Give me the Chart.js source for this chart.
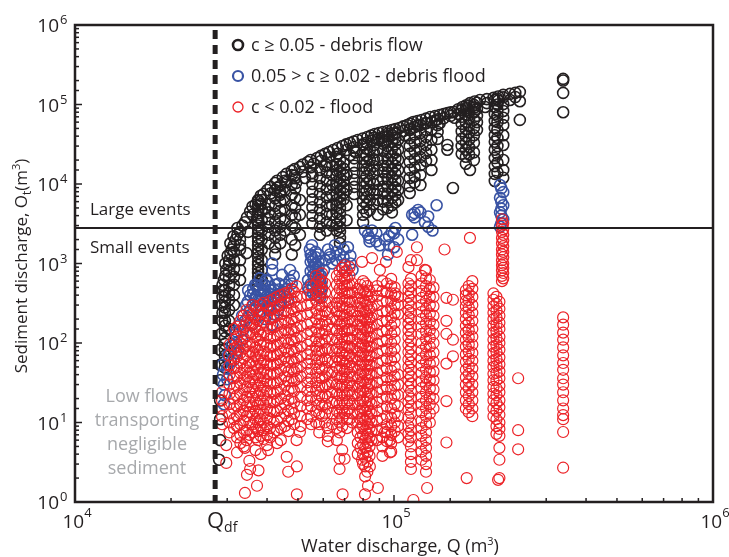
<!DOCTYPE html>
<html>
<head>
<meta charset="utf-8">
<script src="https://cdn.jsdelivr.net/npm/chart.js@4.4.1/dist/chart.umd.min.js"></script>
<style>
  html, body { margin: 0; padding: 0; background: #fff; }
  canvas { display: block; }
</style>
</head>
<body>
<canvas id="chart" width="729" height="557"></canvas>
<script>
// values: [water discharge Q (m3), [sediment discharge Ot (m3), ...]]
const debrisFlowColumns = [
    [28300, [3.4]], [28500, [6, 11, 19, 34, 53, 82]], [28700, [130]], [28900, [190, 300]],
    [29100, [460]], [29300, [620]], [29800, [830]], [30400, [1100]], [31000, [1500]],
    [31900, [2000]], [32900, [2500, 1700]], [34100, [3300]], [34900, [2500]], [35400, [4500]],
    [37100, [3500]], [37500, [6300]], [39400, [5000]], [40100, [8400]], [42400, [10300]],
    [43900, [7300]], [44800, [12200]], [47800, [14600]], [49300, [10300]], [50700, [16400]],
    [52600, [11900]], [53700, [18900]], [55300, [13700]], [57400, [21200]], [60800, [23900, 16800]],
    [64500, [26800]], [68900, [30100]], [72800, [32800, 23100]], [76000, [25000]], [77000, [35800]],
    [82500, [39000]], [87100, [42500]], [92300, [45100]], [93700, [34000]], [98500, [47800]],
    [104000, [50600]], [108000, [41000]], [110000, [55200]], [115000, [60200]], [122000, [63800]],
    [130000, [69600]], [139000, [73800, 58000]], [147000, [78200]], [154000, [80500]], [155000, [68000]],
    [164000, [93000]], [173000, [104000]], [186000, [114000]], [193000, [93000]], [205000, [121000]],
    [220000, [132000]], [231000, [136000, 114000]], [248000, [144000, 110000, 64000]],
    [339000, [200000, 210000, 140000, 80000]],
    [29000, [240, 380, 540]], [29600, [700, 1000]], [30100, [1250]], [30700, [1350, 1800]],
    [31400, [2200]], [32300, [2300, 2800]], [33500, [3000]], [34600, [3800]], [36000, [4100, 5200]],
    [36800, [5500]], [38200, [5600, 7100]], [39000, [7500]], [41000, [7600, 9200]], [43000, [9000, 11000]],
    [46000, [10600, 13400]], [48800, [12700, 15400]], [51800, [14300, 17600]], [54800, [16200, 20000]],
    [56000, [18000]], [59000, [19500, 22600]], [62600, [21700, 25300]], [66600, [24000, 28400]],
    [70800, [26700, 31500]], [74800, [29000, 34300]], [79800, [31500, 37400]], [84800, [34800, 40700]],
    [89700, [37500, 43800]], [95400, [40000, 46400]], [101000, [43000, 49000]], [107000, [46500, 53000]],
    [112500, [50000, 57500]], [118500, [54000, 62000]], [126000, [58500, 66500]], [134500, [63000, 71500]],
    [143000, [67000, 76000]], [150500, [72000, 79500]], [159000, [76000, 87000]], [168500, [84000, 98000]],
    [179000, [92000, 109000]], [195500, [104000, 117000]], [212000, [112000, 126000]], [240000, [124000, 140000]],
    [29500, [460, 390, 330, 280, 240, 190, 165, 140, 115, 97, 82, 69, 58, 49]],
    [30400, [960, 790, 650, 530, 430, 350, 260, 190, 150]],
    [31500, [1700, 1400, 1100, 850, 680, 540, 400, 300]],
    [32900, [2000, 1500, 1100, 830, 620]],
    [34500, [1350]],
    [37500, [6100, 5400, 4800, 4300, 3800, 3400, 3000, 2700, 2400, 2100, 1900, 1700, 1500, 1350, 1200, 1050, 960, 850, 760, 680, 600, 540]],
    [38500, [6300, 4700, 3500, 2600, 2000, 1500, 1100, 830, 620]],
    [40500, [5500, 4400, 3600, 2900, 2300, 1800]],
    [42400, [8400, 6600, 5300, 4200, 3300, 2600, 2100, 1600, 1300]],
    [44000, [9500, 7800, 6000, 4600, 3700, 2900, 2300, 1800]],
    [45500, [11000, 8400, 6300, 4700, 3500, 2600]],
    [47800, [13000, 9700, 7300, 5400, 4100, 3000, 2000, 1300]],
    [49000, [11800, 8800, 6700, 5000, 3800, 2800, 1700]],
    [50700, [6300, 4100, 2300]],
    [55500, [12500, 10000, 8000, 6400, 5100, 4000, 3200]],
    [58600, [15000, 11900, 9400, 7500, 5900, 4700, 3700, 2900, 2300]],
    [61500, [17500, 14000, 11000, 8600, 6800, 5300, 4200, 3300, 2600]],
    [64000, [17000, 13000, 9700, 7300, 5400, 4100, 3000]],
    [66000, [22000, 17800, 14800, 12500, 10500, 8900, 7500, 6300, 5300, 4400, 3700, 3100, 2600]],
    [67700, [20000, 16800, 14200, 11900, 10000, 8400, 7100, 5900, 5000, 4200, 3500, 2900, 2500, 2100, 1800]],
    [69500, [18500, 15600, 13000, 10800, 9000, 7600, 6400]],
    [71000, [13000, 8400, 5400, 3500]],
    [75000, [26000, 21000, 17000, 13800, 11300, 9200, 7500]],
    [80000, [31000, 25000, 20600, 16800, 13700, 11000, 9100, 7500, 6100, 5000, 4100, 3300]],
    [82000, [33000, 28000, 23000, 19000, 15500, 12500, 10200, 8300, 6800, 5500, 4400]],
    [84000, [27000, 20000, 15000, 11000, 8400, 6300, 4700]],
    [86500, [38000, 31000, 25000, 20500, 16800, 13600, 10000, 7500, 5600]],
    [89000, [36000, 27000, 20000, 15000, 11000, 8400, 6300, 4100]],
    [92500, [39000, 32000, 26000, 21000, 17000, 14000, 11500, 9300, 7600, 6000, 4800]],
    [95500, [43000, 36000, 30000, 25000, 20500, 17000, 14000, 11500, 9300, 7600, 6200, 5000]],
    [98500, [41000, 34000, 27500, 22600, 18400, 15000, 12200, 10000, 8200, 6700, 5400, 4400]],
    [101000, [44000, 38000, 31500, 25000, 21000, 17000, 13500, 11000, 9000, 7300, 5900]],
    [103000, [36000, 27000, 20000, 15000, 11000, 8400, 6300]],
    [112000, [47800, 37700, 30100, 23900, 18900, 15000, 11900, 9400, 7700]],
    [116000, [52000, 42000, 33000, 26000, 20500, 16000, 12500, 10500]],
    [121000, [55200, 43700, 34700, 27500, 21800, 17300, 13000, 9700]],
    [126000, [58000, 48000, 39000, 31000, 24500, 19500]],
    [131000, [60000, 47800, 36000, 27000, 20000, 15000]],
    [137000, [65000, 55000, 45000, 37000]],
    [147000, [31000, 27000]], [153000, [8900]],
    [163000, [85000, 70000, 57000, 46000, 37000, 30000, 24000]],
    [168000, [90000, 74000, 60000, 49000, 40000, 33000, 27000, 22000, 18000]],
    [172000, [96000, 80000, 66000, 54000, 44000, 36000, 29000, 23500]],
    [178000, [99000, 80000, 64000, 50600, 41000, 33000, 25000, 20000]],
    [182000, [105000, 88000, 72000, 60000, 48000]],
    [173000, [15000]],
    [207000, [114000, 93000, 76000, 62000, 50600, 41000, 34000, 27000, 21200, 16800, 13400, 10900]],
    [211000, [118000, 100000, 86000, 72000, 60000, 48000, 38000, 30000, 24000, 18500, 14000]],
    [220000, [123000, 101000, 83000, 68000, 55000, 41000, 31000, 20000, 15000, 12000]]
];

const debrisFloodColumns = [
    [28900, [53]], [29100, [40]], [29300, [30, 17]], [29500, [22]], [30200, [71]], [31000, [94]],
    [31900, [130]], [32900, [170]], [32500, [82]], [31500, [61]], [33400, [110, 220]],
    [30000, [35, 48]], [30800, [80, 58]], [32000, [100, 75, 140]], [33600, [145]], [34800, [210, 330]],
    [34100, [190]], [35400, [260, 400]], [36700, [350, 540]], [37500, [460, 350]], [38600, [540, 350]],
    [39700, [620]], [40900, [460]], [42400, [350, 540]], [43900, [400, 300]], [45500, [540]],
    [47200, [620]], [35900, [170]], [38000, [220, 650]], [40400, [260]], [43300, [260]],
    [46600, [350]], [41500, [830, 1000, 170]], [44600, [720]], [34900, [460]], [47200, [830]],
    [38900, [440]], [40300, [370]], [45200, [440]], [39400, [200]], [34400, [300]],
    [36200, [300, 410, 480]], [37000, [520, 390, 280]], [38300, [410, 300, 250]], [39300, [540, 450, 320]],
    [40100, [600, 400, 330, 280]], [41000, [510, 410, 300]], [42000, [470, 380, 230]], [43500, [560, 470]],
    [44300, [380, 330]], [46000, [480, 380]], [47800, [560]], [48500, [700]],
    [54500, [1500]], [55300, [1200, 1700]], [56500, [960]], [57800, [790, 1300]], [58600, [620, 370]],
    [59400, [500]], [57000, [400]], [54100, [460]], [60800, [1100]], [62100, [1500]], [64000, [1000]],
    [56100, [650]], [60300, [830]], [65300, [1700]], [68900, [880]],
    [54800, [1300, 1050, 800, 550]], [55800, [1100, 880, 720, 520, 420]], [56800, [1400, 1200, 1000, 850, 700, 560]],
    [58000, [1050, 900, 740, 600, 460]], [59000, [700, 560, 430]], [53800, [620, 500]],
    [63000, [1300, 1200]], [66000, [1400, 1100]], [69500, [1500, 1200]], [73000, [1250, 1000]],
    [67700, [1300]], [71700, [1600]], [74100, [830]], [70200, [960]],
    [81100, [2600]], [82900, [2300]], [85300, [2600]], [90300, [1700]], [93700, [2000]],
    [98500, [2500]], [101000, [2800]], [103000, [2000]], [95800, [1300]],
    [83800, [2100, 1900]], [88000, [2400, 1900]], [96500, [2200, 1700]], [100000, [1600, 2400]],
    [114000, [4100, 2300]], [119000, [4700]], [121000, [4400]], [125000, [3300]], [132000, [2600]], [136000, [5400]],
    [116000, [3800, 4300]], [128000, [2900, 3900]],
    [215000, [9700, 6700, 4400, 2900]], [220000, [7900, 5400, 3600]], [217000, [8800, 6000, 4900, 4000, 3200]]
];

const floodColumns = [
    [28900, [24, 19, 15, 12, 9.5]], [29800, [5.2, 3.1]],
    [30500, [95, 70, 52, 40, 30, 23, 17, 13, 10, 7.5]],
    [31500, [150, 110, 85, 62, 48, 36, 27, 20, 15, 11, 8.5]],
    [32200, [160, 120, 90, 68, 50, 38, 29, 22, 16, 12, 9, 6.5, 4.2]],
    [33000, [190, 140, 100, 75, 55, 42, 31, 23, 17, 13, 9.5, 7, 5.5]],
    [33800, [220, 160, 115, 85, 64, 46, 35, 26, 19, 14, 10.5, 7.5, 5]],
    [34500, [260, 180, 125, 92, 70, 50, 38, 28, 21, 16, 12, 8, 6]],
    [35200, [240, 180, 135, 100, 78, 56, 42, 32, 24, 18, 13.5, 10, 7, 3.3]],
    [36000, [300, 220, 170, 130, 95, 75, 58, 44, 35, 27, 21, 16, 12.5, 9.5, 7.5]],
    [36800, [280, 200, 155, 118, 88, 68, 52, 40, 31, 24, 18.5, 14, 11, 8.5, 6.5, 4.5]],
    [37500, [250, 190, 140, 110, 80, 62, 48, 37, 29, 22, 17, 13, 10, 7.8, 6]],
    [38200, [300, 230, 170, 125, 95, 70, 55, 42, 32, 25, 19, 14.5, 11, 8.8, 6.8, 4]],
    [39000, [320, 240, 180, 135, 100, 78, 60, 46, 36, 28, 22, 17, 13, 10, 8, 6.2]],
    [40000, [290, 220, 165, 125, 95, 72, 55, 42, 33, 25, 19.5, 15, 11.5, 9, 7, 5.2]],
    [40900, [340, 260, 200, 150, 115, 88, 68, 52, 40, 31, 24, 18, 14, 11, 8.5, 6.5]],
    [42000, [360, 275, 210, 158, 120, 92, 70, 53, 41, 31, 23, 18, 13.5, 10, 7.5]],
    [43000, [380, 290, 220, 165, 125, 95, 72, 55, 42, 32, 25, 19, 14, 10.5, 8, 5.5]],
    [44200, [400, 300, 230, 175, 135, 100, 78, 60, 46, 35, 26, 20, 15, 11.5, 8.5, 6]],
    [45500, [420, 330, 250, 190, 145, 110, 85, 65, 50, 38, 29, 22, 17, 13, 9]],
    [46700, [430, 320, 240, 180, 135, 100, 76, 58, 44, 33, 25, 19, 14, 10.5, 7.8]],
    [47800, [480, 360, 270, 200, 150, 110, 82, 62, 47, 36, 27, 20, 15, 11]],
    [48600, [440, 330, 250, 185, 140, 105, 78, 58, 44, 33, 25, 18, 13, 9.5]],
    [49500, [520, 380, 280, 210, 155, 115, 86, 64, 48, 35, 6]],
    [51000, [380, 290, 220, 165, 120, 90, 68, 50, 38, 28, 21, 16, 12, 9]],
    [53500, [400, 300, 230, 170, 130, 95, 72, 55, 42, 32, 25, 19, 15, 11]],
    [55000, [520, 400, 310, 240, 180, 140, 105, 80, 62, 47, 36, 28, 21, 16, 12, 9.5]],
    [57000, [700, 560, 440, 340, 260, 200, 150, 115, 90, 70, 54, 42, 32, 25, 19, 14, 10]],
    [58300, [640, 500, 390, 300, 230, 175, 135, 104, 80, 62, 48, 37, 29, 22, 17, 13, 9.5, 7.5]],
    [59500, [750, 600, 470, 370, 290, 220, 170, 130, 100, 78, 60, 46, 36, 28, 21, 16, 12]],
    [60800, [560, 430, 330, 250, 190, 145, 110, 84, 64, 50, 38, 29, 22, 17, 13, 10]],
    [62000, [330, 240, 170, 120, 85, 60, 42, 30, 21, 15, 8.5, 6.8, 5.8]],
    [64000, [280, 200, 150, 110, 80, 58, 43, 32, 24, 18, 13, 9.5]],
    [66200, [700, 540, 420, 320, 250, 190, 145, 112, 86, 66, 50, 39, 30, 23, 18, 14, 11, 8.5, 6]],
    [67500, [800, 620, 480, 370, 290, 220, 170, 130, 100, 78, 60, 46, 36, 28, 22, 17, 13, 10, 7.5, 3.5, 2.6]],
    [68800, [880, 700, 560, 450, 360, 290, 230, 185, 150, 120, 95, 75, 60, 48, 38, 30, 24, 19, 15, 11.5, 9, 4.5]],
    [70000, [950, 780, 640, 520, 420, 340, 270, 220, 175, 140, 110, 88, 70, 55, 44, 35, 28, 22, 17, 13, 3.5]],
    [71200, [820, 660, 530, 430, 350, 280, 225, 180, 145, 115, 92, 74, 59, 47, 37, 29, 23, 18, 14, 11, 8.5]],
    [72500, [900, 700, 540, 420, 330, 260, 200, 150, 115, 90, 70, 54, 42, 32, 25, 19, 15, 11]],
    [74000, [560, 430, 330, 250, 190, 145, 110, 85, 65, 50, 38, 29, 22, 17, 13, 10]],
    [77000, [480, 370, 290, 220, 170, 130, 100, 78, 60, 46, 36, 28, 22, 17, 13, 10, 7.5, 5.5, 4]],
    [78500, [540, 420, 320, 250, 190, 150, 115, 88, 68, 52, 40, 31, 24, 18.5, 14, 11, 8.5, 6.5, 4.8]],
    [80000, [600, 460, 350, 270, 210, 160, 125, 95, 73, 56, 43, 33, 25, 19, 15, 11.5, 9, 7, 5.3, 4, 3]],
    [81200, [560, 430, 330, 250, 195, 150, 115, 88, 68, 52, 40, 31, 24, 18, 14, 10.5, 8, 6.2, 4.8, 3.6, 2.8, 2.1]],
    [82500, [520, 400, 300, 230, 180, 140, 105, 80, 60, 46, 35, 27, 21, 16, 12, 9.5, 7.2, 5.5, 4.2, 3.2, 2.4]],
    [83800, [450, 340, 260, 200, 155, 118, 90, 70, 53, 41, 31, 24, 18.5, 14, 11, 8.5, 6.5, 5, 3.8]],
    [85000, [380, 280, 210, 160, 120, 90, 68, 52, 40, 30, 23, 17, 13, 10, 7.8, 6]],
    [88500, [520, 390, 300, 230, 170, 130, 98, 74, 56, 42, 32, 24, 18, 14, 10.5, 8, 6]],
    [92000, [600, 450, 340, 250, 190, 140, 105, 80, 60, 45, 34, 26, 20, 15, 11, 8.5, 6.5, 5, 3.8]],
    [95000, [560, 430, 330, 250, 190, 145, 110, 84, 64, 48, 37, 28, 21, 16, 12, 9.5, 7.5, 5.8]],
    [98000, [640, 520, 420, 340, 270, 210, 165, 130, 100, 78, 60, 45, 34, 26, 20, 15, 11.5, 9, 7, 5.5, 4.3]],
    [100500, [500, 390, 300, 235, 180, 140, 110, 85, 66, 50, 38, 29, 22, 17, 13, 10, 7.8]],
    [103000, [380, 300, 230, 40, 30, 22, 16, 12, 9, 6.5]],
    [111000, [900, 560, 460, 380, 310, 255, 210, 175, 145, 118, 95, 77, 62, 50, 41, 34, 28, 22, 18, 14.5, 11.5, 9, 7.2, 5.8]],
    [113000, [1100, 640, 520, 430, 350, 290, 240, 200, 160, 130, 105, 85, 70, 57, 46, 38, 31, 25, 20, 16, 13, 10, 8, 6.5, 5, 4, 3.2, 2.6]],
    [122000, [700, 560, 450, 370, 300, 245, 200, 160, 130, 100, 80, 64, 52, 42, 33, 27, 21, 17, 13.5, 10.5, 8.5, 6.8, 5.4, 4.3, 3.4]],
    [126000, [820, 650, 520, 420, 340, 270, 220, 175, 140, 112, 90, 72, 58, 46, 37, 30, 24, 19, 15, 12, 9.5, 7.5, 6, 4.8, 3.8, 3, 2.4]],
    [129500, [620, 480, 380, 300, 235, 185, 145, 115, 90, 70, 55, 43, 34, 27, 21, 17, 13, 10]],
    [133000, [500, 380, 290, 220, 170, 130, 100, 76, 58, 44, 34, 26, 20, 15]],
    [146000, [370, 190, 130, 55, 18.6, 5.6]], [153000, [350, 110, 68]],
    [168000, [460, 400, 340, 290, 240, 200, 165, 135, 110, 90, 72, 58, 46, 37, 30, 24, 19, 15]],
    [171500, [520, 420, 345, 280, 225, 180, 145, 118, 96, 78, 63, 51, 41, 33, 27, 21.5, 17, 13.5]],
    [176000, [600, 480, 380, 300, 240, 190, 150, 120, 95, 75, 60, 48, 38, 30, 24, 19, 15, 12]],
    [218000, [3600, 3000, 2500, 2100, 1800, 1500, 1300, 1100, 950, 820, 700, 600]],
    [220000, [3200, 2700, 2300, 1950, 1650, 1400, 1200, 1000, 880, 760, 650]],
    [205000, [420, 350, 290, 240, 200, 165, 135, 110, 90, 74, 60, 50, 41, 34, 28, 23, 19, 15, 12]],
    [209500, [380, 310, 255, 210, 172, 140, 115, 94, 77, 63, 52, 42, 34, 27, 22, 17.5, 14, 11, 9, 7.2]],
    [214000, [330, 270, 220, 180, 150, 120, 100, 82, 66, 54, 44, 36, 29, 24, 19, 15.5, 12.5, 10, 8.3, 6.8, 4.8, 3.4, 2.0]],
    [245000, [36, 8, 4.6]],
    [339000, [210, 170, 135, 110, 88, 70, 56, 46, 36, 30, 24, 19, 15, 12.4, 11, 7.6, 2.7]],
    [34100, [1.3, 4.8]], [37200, [1.6]], [34600, [2.2]], [35400, [2.6]], [37600, [2.5]], [40300, [4.5]],
    [46100, [3.7]], [46600, [2.4]], [49600, [2.8, 1.25]], [50700, [7.6]], [69000, [1.25]], [81100, [1.25]],
    [82900, [1.6]], [84000, [2.8]], [89000, [1.5]], [79400, [3.4, 1050]], [97100, [4.2, 6.0]], [93700, [7.6]],
    [85300, [1170]], [90300, [830]], [94400, [1050]], [88000, [460]], [101000, [420]], [102000, [1400]],
    [118000, [1600, 1100]], [125000, [830]], [144000, [1500]], [173000, [2100]], [115000, [1.06]],
    [127000, [1.5]], [169000, [2.0]], [212000, [1.9]]
];

const seriesLabels = ['c \u2265 0.05 - debris flow', '0.05 > c \u2265 0.02 - debris flood', 'c < 0.02 - flood'];
const seriesColors = ['#231f20', '#3953a4', '#ec2227'];
const xDecades = [1e4, 1e5, 1e6];
const yDecades = [1e0, 1e1, 1e2, 1e3, 1e4, 1e5, 1e6];
const qDebrisFlow = 27500;     // Qdf, dashed line
const largeEventLimit = 2800;  // large / small events divide
const lowFlowText = ['Low flows', 'transporting', 'negligible', 'sediment'];

const FONT = '"Open Sans", sans-serif';
const INK = '#231f20';

function toPoints(cols) {
    return cols.flatMap(([q, vs]) => vs.map(v => ({ x: q, y: v })));
}

// draws a row of text pieces: [text, size, baseline shift]
function richText(ctx, parts, x, y, align) {
    let total = 0;
    parts.forEach(p => { ctx.font = p[1] + 'px ' + FONT; total += ctx.measureText(p[0]).width; });
    let cx = align === 'center' ? x - total / 2 : align === 'right' ? x - total : x;
    ctx.textAlign = 'left';
    ctx.textBaseline = 'alphabetic';
    parts.forEach(p => {
        ctx.font = p[1] + 'px ' + FONT;
        ctx.fillText(p[0], cx, y + (p[2] || 0));
        cx += ctx.measureText(p[0]).width;
    });
}

const decorations = {
    id: 'decorations',
    afterDatasetsDraw(chart) {
        const { ctx, chartArea: a, scales: { x, y } } = chart;
        ctx.save();
        ctx.strokeStyle = INK;

        const yl = y.getPixelForValue(largeEventLimit);
        ctx.lineWidth = 2;
        ctx.beginPath(); ctx.moveTo(a.left, yl); ctx.lineTo(a.right, yl); ctx.stroke();

        const xq = x.getPixelForValue(qDebrisFlow);
        ctx.lineWidth = 5;
        ctx.setLineDash([9, 6]);
        ctx.beginPath(); ctx.moveTo(xq, a.top + 5); ctx.lineTo(xq, a.bottom); ctx.stroke();
        ctx.setLineDash([]);

        // inward tick marks
        ctx.lineWidth = 1.5;
        y.ticks.forEach(t => {
            const p = y.getPixelForValue(t.value);
            const len = yDecades.includes(t.value) ? 7 : 4;
            ctx.beginPath(); ctx.moveTo(a.left, p); ctx.lineTo(a.left + len, p); ctx.stroke();
        });
        x.ticks.forEach(t => {
            const p = x.getPixelForValue(t.value);
            const len = xDecades.includes(t.value) ? 7 : 4;
            ctx.beginPath(); ctx.moveTo(p, a.bottom); ctx.lineTo(p, a.bottom - len); ctx.stroke();
        });

        ctx.lineWidth = 2.5;
        ctx.strokeRect(a.left, a.top, a.right - a.left, a.bottom - a.top);
        ctx.restore();
    },
    afterDraw(chart) {
        const { ctx, scales: { x, y } } = chart;
        ctx.save();
        ctx.fillStyle = INK;

        yDecades.forEach(v => {
            const p = y.getPixelForValue(v);
            ctx.font = '19px ' + FONT; ctx.textAlign = 'right'; ctx.textBaseline = 'alphabetic';
            ctx.fillText('10', 59, p + 7);
            ctx.font = '13px ' + FONT; ctx.textAlign = 'left';
            ctx.fillText(String(Math.round(Math.log10(v))), 60, p - 1);
        });
        xDecades.forEach(v => {
            const p = x.getPixelForValue(v);
            richText(ctx, [['10', 19], [String(Math.round(Math.log10(v))), 13, -11]], p + 2, 528, 'center');
        });

        const xq = x.getPixelForValue(qDebrisFlow);
        richText(ctx, [['Q', 22], ['df', 14, 4]], xq + 7, 528, 'center');

        richText(ctx, [['Water discharge, Q (m', 18], ['3', 11, -7], [')', 18]], 400, 552, 'center');

        ctx.save();
        ctx.translate(27, 266);
        ctx.rotate(-Math.PI / 2);
        richText(ctx, [['Sediment discharge, O', 17], ['t', 12, 4], ['(m', 17], ['3', 11, -7], [')', 17]], 0, 0, 'center');
        ctx.restore();

        const yl = y.getPixelForValue(largeEventLimit);
        ctx.font = '17px ' + FONT; ctx.textAlign = 'left'; ctx.textBaseline = 'alphabetic';
        ctx.fillText('Large events', 90, yl - 13);
        ctx.fillText('Small events', 90, yl + 25);

        ctx.fillStyle = '#a7a9ac';
        ctx.font = '18px ' + FONT; ctx.textAlign = 'center';
        lowFlowText.forEach((s, i) => ctx.fillText(s, 147, 402 + i * 24));

        // legend
        chart.data.datasets.forEach((ds, i) => {
            const cy = 45 + i * 31;
            ctx.strokeStyle = ds.borderColor;
            ctx.lineWidth = [2.6, 2.2, 1.3][i];
            ctx.beginPath(); ctx.arc(238, cy, 5, 0, Math.PI * 2); ctx.stroke();
            ctx.fillStyle = INK;
            ctx.font = '18px ' + FONT; ctx.textAlign = 'left'; ctx.textBaseline = 'alphabetic';
            ctx.fillText(ds.label, 251, cy + 6);
        });
        ctx.restore();
    }
};

const seriesColumns = [debrisFlowColumns, debrisFloodColumns, floodColumns];
const datasets = seriesColumns.map((cols, i) => ({
    label: seriesLabels[i],
    data: toPoints(cols),
    showLine: false,
    pointStyle: 'circle',
    pointRadius: 5.5,
    pointBorderWidth: [1.6, 1.6, 1.2][i],
    borderColor: seriesColors[i],
    pointBorderColor: seriesColors[i],
    pointBackgroundColor: 'rgba(0,0,0,0)',
    order: 3 - i
}));

const hiddenAxis = { display: false, drawTicks: false };

new Chart(document.getElementById('chart'), {
    type: 'scatter',
    data: { datasets },
    options: {
        responsive: false,
        animation: false,
        events: [],
        layout: { padding: { left: 75, right: 16, top: 25, bottom: 55 } },
        plugins: { legend: { display: false }, tooltip: { enabled: false } },
        scales: {
            x: {
                type: 'logarithmic', min: 1e4, max: 1e6,
                ticks: { display: false }, grid: hiddenAxis, border: { display: false }
            },
            y: {
                type: 'logarithmic', min: 1, max: 1e6,
                ticks: { display: false }, grid: hiddenAxis, border: { display: false }
            }
        }
    },
    plugins: [decorations]
});
</script>
</body>
</html>
